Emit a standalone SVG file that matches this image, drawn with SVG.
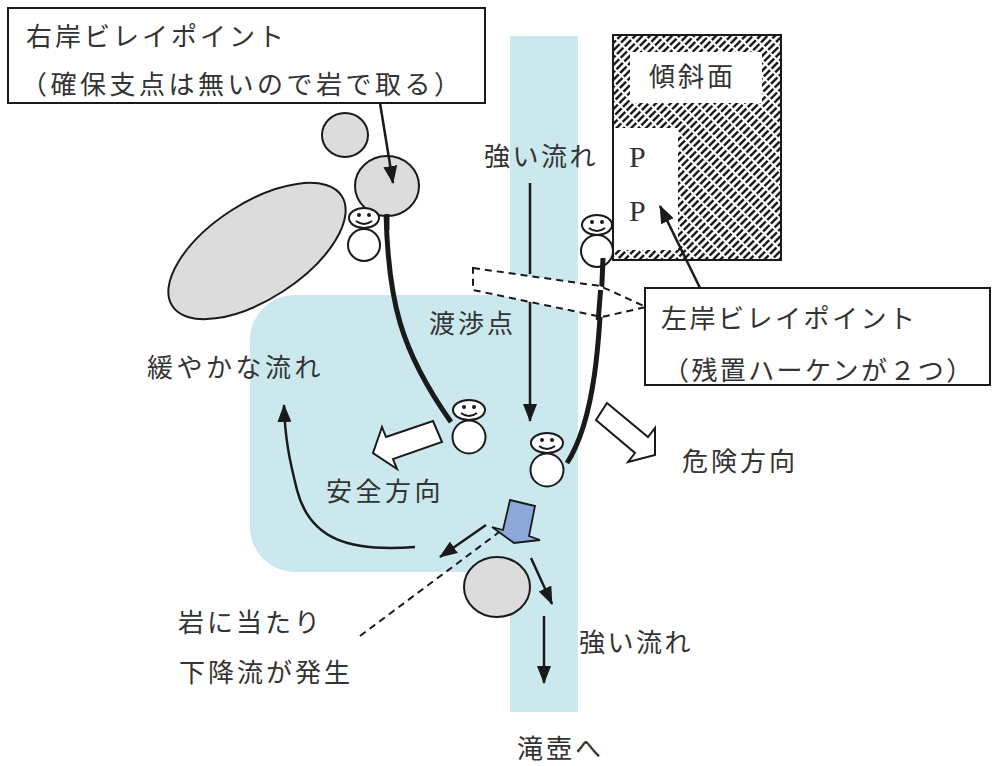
<svg xmlns="http://www.w3.org/2000/svg" width="992" height="766" viewBox="0 0 992 766">
  <defs>
    <style>
      .txt { font-family: "Noto Sans CJK JP", "Noto Sans", sans-serif; font-size: 26px; fill: #333; }
      .serif { font-family: "Liberation Serif", serif; font-size: 30px; fill: #333; }
      .water { fill: #cce8ef; }
      .rock { fill: #dcdcdc; stroke: #1a1a1a; stroke-width: 2; }
      .body { fill: #fff; stroke: #1a1a1a; stroke-width: 2; }
      .face { fill: none; stroke: #1a1a1a; stroke-width: 2; }
      .eye { fill: #1a1a1a; }
      .rope { fill: none; stroke: #1a1a1a; stroke-width: 5; stroke-linecap: butt; }
      .flow { fill: none; stroke: #1a1a1a; stroke-width: 2.5; marker-end: url(#head); }
      .label { fill: #fff; stroke: #1a1a1a; stroke-width: 2; }
      .block { fill: #fff; stroke: #1a1a1a; stroke-width: 2; stroke-linejoin: miter; }
      .dash { fill: none; stroke: #1a1a1a; stroke-width: 2; stroke-dasharray: 7 5; }
    </style>
    <marker id="head" viewBox="0 0 18 14" refX="17" refY="7" markerWidth="18" markerHeight="14" markerUnits="userSpaceOnUse" orient="auto">
      <path d="M0,0 L18,7 L0,14 Z" fill="#1a1a1a"/>
    </marker>
    <!-- forward-slash hatching for the slope -->
    <pattern id="hatch" patternUnits="userSpaceOnUse" width="5.2" height="44" patternTransform="rotate(45)">
      <line x1="1.3" y1="0" x2="1.3" y2="44" stroke="#000" stroke-width="2.2" stroke-dasharray="9 2"/>
    </pattern>
  </defs>

  <rect x="0" y="0" width="992" height="766" fill="#fff"/>

  <!-- stream and slack-water pool -->
  <g id="stream">
    <rect class="water" x="510" y="36" width="68" height="676"/>
    <path class="water" d="M295,295 H540 V572 H295 A45,45 0 0 1 250,527 V340 A45,45 0 0 1 295,295 Z"/>
  </g>

  <!-- slope with hatching and the two pitons -->
  <g id="slope">
    <rect x="613" y="35" width="168" height="225" fill="url(#hatch)"/>
    <rect x="630" y="52" width="132" height="51" fill="#fff"/>
    <rect x="613" y="128" width="65" height="122" fill="#fff"/>
    <rect x="613" y="35" width="168" height="225" fill="none" stroke="#1a1a1a" stroke-width="2"/>
    <text class="txt" x="649" y="86" letter-spacing="3">傾斜面</text>
    <text class="serif" x="629" y="167">P</text>
    <text class="serif" x="629" y="221">P</text>
  </g>

  <!-- rocks -->
  <g id="rocks">
    <ellipse class="rock" cx="345" cy="135" rx="23" ry="22"/>
    <ellipse class="rock" cx="257" cy="251" rx="101" ry="48" transform="rotate(-33 257 251)"/>
    <ellipse class="rock" cx="497" cy="587" rx="33" ry="30"/>
  </g>

  <!-- rope from the right bank -->
  <g id="ropes">
    <path class="rope" d="M386,212 C388,300 400,350 451,422"/>
  </g>

  <g id="rock-anchor">
    <ellipse class="rock" cx="387" cy="186" rx="32" ry="30"/>
    <path class="rope" d="M387,214 L387,230"/>
  </g>

  <!-- climbers -->
  <g id="climber-right-bank">
    <circle class="body" cx="364" cy="245" r="16"/>
    <ellipse class="body" cx="364" cy="218" rx="15" ry="10"/>
    <circle class="eye" cx="359" cy="215" r="2"/>
    <circle class="eye" cx="369" cy="215" r="2"/>
    <path class="face" d="M356,221 Q364,227 372,221"/>
  </g>
  <g id="climber-left-bank">
    <circle class="body" cx="597" cy="251" r="16"/>
    <ellipse class="body" cx="597" cy="225" rx="15" ry="10"/>
    <circle class="eye" cx="592" cy="222" r="2"/>
    <circle class="eye" cx="602" cy="222" r="2"/>
    <path class="face" d="M589,228 Q597,234 605,228"/>
  </g>
  <g id="climber-safe">
    <circle class="body" cx="469" cy="437" r="16.5"/>
    <ellipse class="body" cx="469" cy="410" rx="16" ry="10"/>
    <circle class="eye" cx="464" cy="407" r="2"/>
    <circle class="eye" cx="474" cy="407" r="2"/>
    <path class="face" d="M461,413 Q469,419 477,413"/>
  </g>
  <g id="climber-danger">
    <circle class="body" cx="547" cy="470" r="16.5"/>
    <ellipse class="body" cx="547" cy="443" rx="16" ry="10"/>
    <circle class="eye" cx="542" cy="440" r="2"/>
    <circle class="eye" cx="552" cy="440" r="2"/>
    <path class="face" d="M539,446 Q547,452 555,446"/>
  </g>

  <g id="rope-left-bank">
    <path class="rope" d="M603,258 C600,340 595,420 567,463"/>
  </g>

  <!-- flow directions, callout pointers and the crossing line -->
  <g id="connectors">
    <line class="flow" x1="380" y1="103" x2="393" y2="183"/>
    <line class="flow" x1="700" y1="288" x2="660" y2="206"/>
    <line x1="530" y1="183" x2="530" y2="274" stroke="#1a1a1a" stroke-width="2.5"/>
    <line class="flow" x1="530" y1="297" x2="530" y2="421"/>
    <path class="flow" d="M415,547 C350,552 310,540 297,490 C290,462 285,440 284,405"/>
    <line class="flow" x1="486" y1="525" x2="440" y2="557"/>
    <line class="flow" x1="531" y1="558" x2="552" y2="604"/>
    <line class="flow" x1="544" y1="616" x2="544" y2="683"/>
    <line class="dash" x1="360" y1="636" x2="510" y2="524"/>
  </g>

  <!-- crossing point -->
  <g id="crossing">
    <polygon points="473,268 600,286 646,307 602,317 473,290" fill="#fff" stroke="#1a1a1a" stroke-width="2" stroke-dasharray="7 5"/>
    <path class="rope" d="M600.6,290 L598.2,320"/>
  </g>

  <!-- direction arrows -->
  <g id="safe-direction">
    <polygon class="block" points="433,421 442,442 393,459 397,469 373,453 382,427 386,437"/>
  </g>
  <g id="danger-direction">
    <polygon class="block" points="607,403 648,437 655,428 655,455 628,462 635,453 596,420"/>
  </g>
  <g id="downwash">
    <polygon points="510,500 535,506 529,536 540,540 514,543 492,527 503,530" fill="#8ba8d8" stroke="#1a1a1a" stroke-width="1.8"/>
  </g>

  <!-- callout boxes -->
  <g id="right-belay-label">
    <rect class="label" x="8" y="8" width="477" height="95"/>
    <text class="txt" x="26" y="46" letter-spacing="3">右岸ビレイポイント</text>
    <text class="txt" x="21" y="94" letter-spacing="3.5">（確保支点は無いので岩で取る）</text>
  </g>
  <g id="left-belay-label">
    <rect class="label" x="645" y="288" width="345" height="97"/>
    <text class="txt" x="661" y="328" letter-spacing="2.5">左岸ビレイポイント</text>
    <text class="txt" x="663" y="380" letter-spacing="2.4">（残置ハーケンが２つ）</text>
  </g>

  <!-- free labels -->
  <g id="labels">
    <text class="txt" x="484" y="166" letter-spacing="2.5">強い流れ</text>
    <text class="txt" x="429" y="333" letter-spacing="3">渡渉点</text>
    <text class="txt" x="147" y="377" letter-spacing="3.5">緩やかな流れ</text>
    <text class="txt" x="326" y="501" letter-spacing="3.5">安全方向</text>
    <text class="txt" x="682" y="471" letter-spacing="3">危険方向</text>
    <text class="txt" x="178" y="632" letter-spacing="3">岩に当たり</text>
    <text class="txt" x="179" y="682" letter-spacing="3">下降流が発生</text>
    <text class="txt" x="579" y="652" letter-spacing="2.5">強い流れ</text>
    <text class="txt" x="517" y="758" letter-spacing="3">滝壺へ</text>
  </g>
</svg>
